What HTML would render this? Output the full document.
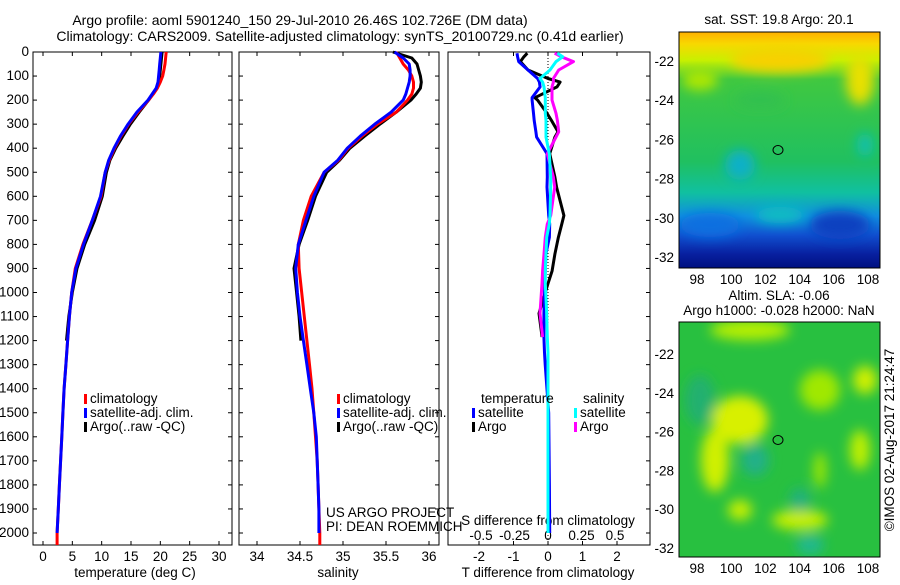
<!DOCTYPE html>
<html><head><meta charset="utf-8"><style>
body{margin:0;background:#fff;width:900px;height:580px;overflow:hidden;font-family:"Liberation Sans",sans-serif}
svg text{font-family:"Liberation Sans",sans-serif;font-size:13.5px;fill:#000}
svg text.ttl{font-size:14px}
</style></head><body>
<svg id="c" width="900" height="580">
<defs>
<filter id="bl" x="-20%" y="-20%" width="140%" height="140%"><feGaussianBlur stdDeviation="6"/></filter>
<clipPath id="m1c"><rect x="679" y="32" width="201" height="236"/></clipPath>
<clipPath id="m2c"><rect x="679" y="322" width="201" height="235"/></clipPath>
<linearGradient id="sst" x1="0" y1="0" x2="0" y2="1">
<stop offset="0" stop-color="#ffb000"/><stop offset="0.05" stop-color="#f8d800"/><stop offset="0.12" stop-color="#c8f000"/>
<stop offset="0.2" stop-color="#40c840"/><stop offset="0.55" stop-color="#20c060"/><stop offset="0.68" stop-color="#10c0a0"/>
<stop offset="0.78" stop-color="#1090e0"/><stop offset="0.86" stop-color="#1050d0"/><stop offset="0.94" stop-color="#0820a0"/><stop offset="1" stop-color="#001080"/>
</linearGradient>
</defs>
<text class="ttl" x="300" y="25" text-anchor="middle">Argo profile: aoml 5901240_150 29-Jul-2010 26.46S 102.726E (DM data)</text>
<text class="ttl" x="340" y="41" text-anchor="middle">Climatology: CARS2009. Satellite-adjusted climatology: synTS_20100729.nc (0.41d earlier)</text>
<g id="plots"></g>
<g clip-path="url(#m1c)">
<rect x="679" y="32" width="201" height="236" fill="url(#sst)"/>
<g filter="url(#bl)">
<ellipse cx="780" cy="60" rx="50" ry="12" fill="#f8d000"/>
<ellipse cx="860" cy="80" rx="14" ry="25" fill="#e8e000"/>
<ellipse cx="700" cy="80" rx="18" ry="10" fill="#b0e800"/>
<ellipse cx="760" cy="100" rx="25" ry="8" fill="#30c050"/>
<ellipse cx="740" cy="165" rx="15" ry="15" fill="#10b0c8"/>
<ellipse cx="865" cy="145" rx="8" ry="12" fill="#10c0b0"/>
<ellipse cx="710" cy="225" rx="30" ry="12" fill="#1070e0"/>
<ellipse cx="840" cy="225" rx="30" ry="14" fill="#1040c0"/>
<ellipse cx="780" cy="215" rx="25" ry="8" fill="#10c0c0"/>
</g>
<ellipse cx="778" cy="150" rx="5" ry="4.5" fill="none" stroke="#000" stroke-width="1"/>
</g>
<rect x="679" y="32" width="201" height="236" fill="none" stroke="#000"/>
<g clip-path="url(#m2c)">
<rect x="679" y="322" width="201" height="235" fill="#28c040"/>
<g filter="url(#bl)">
<ellipse cx="750" cy="330" rx="40" ry="10" fill="#b8f000"/>
<ellipse cx="740" cy="420" rx="28" ry="24" fill="#d8f000"/>
<ellipse cx="715" cy="460" rx="14" ry="32" fill="#d0f000"/>
<ellipse cx="820" cy="390" rx="20" ry="20" fill="#a0e800"/>
<ellipse cx="865" cy="380" rx="12" ry="14" fill="#d0f000"/>
<ellipse cx="860" cy="450" rx="10" ry="20" fill="#c0f000"/>
<ellipse cx="800" cy="520" rx="28" ry="10" fill="#c8f000"/>
<ellipse cx="740" cy="510" rx="12" ry="10" fill="#c8f000"/>
<ellipse cx="820" cy="470" rx="6" ry="18" fill="#a0e800"/>
<ellipse cx="755" cy="460" rx="14" ry="16" fill="#20b088"/>
<ellipse cx="800" cy="500" rx="10" ry="12" fill="#20b080"/>
<ellipse cx="810" cy="545" rx="14" ry="10" fill="#20b890"/>
<ellipse cx="700" cy="400" rx="15" ry="25" fill="#20b070"/>
</g>
<ellipse cx="778" cy="440" rx="5" ry="4.5" fill="none" stroke="#000" stroke-width="1"/>
</g>
<rect x="679" y="322" width="201" height="235" fill="none" stroke="#000"/>
<text x="779" y="24" text-anchor="middle">sat. SST: 19.8 Argo: 20.1</text>
<text x="779" y="300" text-anchor="middle">Altim. SLA: -0.06</text>
<text x="779" y="315" text-anchor="middle">Argo h1000: -0.028 h2000: NaN</text>
<text transform="translate(894,440) rotate(-90)" text-anchor="middle">©IMOS 02-Aug-2017 21:24:47</text>
<text x="326" y="517">US ARGO PROJECT</text>
<text x="326" y="531">PI: DEAN ROEMMICH</text>
</svg>
<script>
// pressure levels (dbar)
const pres = [0,25,50,75,100,125,150,175,200,250,300,350,400,450,500,600,700,800,900,1000,1100,1200,1300,1400,1500,1600,1700,1800,1900,2000,2050];
const tClim = [21.0,20.9,20.8,20.6,20.4,20.0,19.5,18.8,18.0,16.2,14.6,13.3,12.2,11.3,10.6,9.9,8.4,6.8,5.5,4.9,4.5,4.2,3.9,3.6,3.4,3.2,3.0,2.8,2.6,2.4,2.4];
const tSat  = [20.1,20.0,19.9,19.8,19.7,19.6,19.3,18.6,17.9,16.0,14.5,13.2,12.1,11.2,10.6,9.8,8.4,6.9,5.6,4.9,4.5,4.2,3.9,3.6,3.4,3.2,3.0,2.8,2.6,2.4,null];
const tArgo = [20.3,20.2,20.1,20.0,19.9,19.7,19.4,18.7,18.0,16.4,14.9,13.6,12.4,11.4,10.8,10.1,8.8,7.1,5.8,5.0,4.4,4.0,null,null,null,null,null,null,null,null,null];
const sClim = [35.62,35.66,35.70,35.76,35.80,35.82,35.82,35.80,35.75,35.62,35.40,35.22,35.06,34.95,34.78,34.63,34.54,34.48,34.49,34.52,34.55,34.58,34.61,34.64,34.66,34.68,34.70,34.71,34.72,34.73,34.73];
const sSat  = [35.60,35.70,35.77,35.78,35.78,35.77,35.75,35.73,35.70,35.56,35.37,35.20,35.05,34.94,34.78,34.66,34.57,34.48,34.45,34.47,34.50,34.54,34.58,34.62,34.66,34.69,34.70,34.71,34.72,34.72,null];
const sArgo = [35.58,35.80,35.86,35.88,35.90,35.91,35.90,35.85,35.79,35.62,35.43,35.25,35.08,34.96,34.81,34.68,34.59,34.49,34.43,34.46,34.49,34.51,null,null,null,null,null,null,null,null,null];
// difference profiles
const dPres = [5,20,40,75,110,125,145,190,200,255,285,332,354,423,520,562,680,715,770,840,910,963,1087,1185,1250,1300,1500,1800,2000];
const dTSat = [-0.9,-0.88,-0.85,-0.58,-0.3,-0.25,-0.23,-0.46,-0.46,-0.42,-0.4,-0.35,-0.33,-0.03,-0.02,-0.03,0.02,0.05,0.04,-0.06,-0.08,-0.09,-0.12,-0.12,-0.1,-0.08,0.02,0.04,0.05];
const dTArgo = [-0.6,-0.7,-0.8,-0.58,0,0.35,0.26,-0.38,-0.3,-0.03,0.1,0.29,0.2,0.05,0.2,0.25,0.46,0.4,0.3,0.2,0.12,0,-0.26,-0.17,null,null,null,null,null];
const dSSat = [0.07,0.11,0.06,0.015,-0.06,-0.04,-0.03,-0.02,-0.02,-0.02,-0.015,-0.015,-0.015,0.01,0.02,0.02,0.015,0.01,-0.01,-0.015,-0.02,-0.02,-0.01,-0.005,0,0,0,0,0];
const dSArgo = [0.05,0.1,0.19,0.08,0.04,0.04,0.03,0.03,0.03,0.06,0.07,0.08,0.06,-0.005,0.04,0.05,0.02,-0.005,-0.02,-0.03,-0.04,-0.045,-0.06,-0.04,null,null,null,null,null];
const yTicks = [0,100,200,300,400,500,600,700,800,900,1000,1100,1200,1300,1400,1500,1600,1700,1800,1900,2000];
const tTicks = [0,5,10,15,20,25,30];
const sTicks = [34,34.5,35,35.5,36];
const dtTicks = [-2,-1,0,1,2];
const dsTicks = [-0.5,-0.25,0,0.25,0.5];

const NS='http://www.w3.org/2000/svg';
const root=document.getElementById('plots');
function el(tag,attrs,parent){const e=document.createElementNS(NS,tag);for(const k in attrs)e.setAttribute(k,attrs[k]);(parent||root).appendChild(e);return e;}
const TOP=52, BOT=545;
const yP=p=>TOP+p*0.2405;
function lin(d0,d1,r0,r1){return v=>r0+(v-d0)*(r1-r0)/(d1-d0);}
const xT=lin(0,30,43,219), xS=lin(34,36,257,429), xDT=lin(0,2,548,617), xDS=lin(0,0.5,548,615);

const panels=[{l:33,r:232,name:'temperature-panel'},{l:239,r:439,name:'salinity-panel'},{l:448,r:650,name:'difference-panel'}];
panels.forEach((p,i)=>{
  const g=el('g',{});
  
  
  el('rect',{x:p.l,y:TOP,width:p.r-p.l,height:BOT-TOP,fill:'none',stroke:'#000'},g);
  yTicks.forEach(v=>{
    const y=yP(v);
    if(i<2){el('line',{x1:p.l,x2:p.l+4,y1:y,y2:y,stroke:'#000'},g);}
    el('line',{x1:p.r-4,x2:p.r,y1:y,y2:y,stroke:'#000'},g);
    if(i==0){const t=el('text',{x:p.l-4,y:y+4,'text-anchor':'end'},g);t.textContent=v;
      
      }
  });
});
function xAxis(ticks,fx,y0,labelY){
  ticks.forEach(v=>{const x=fx(v);
    el('line',{x1:x,x2:x,y1:BOT,y2:BOT-4,stroke:'#000'});
    el('line',{x1:x,x2:x,y1:TOP,y2:TOP+4,stroke:'#000'});
    const t=el('text',{x:x,y:labelY,'text-anchor':'middle'});t.textContent=v;
    
    });
}
xAxis(tTicks,xT,BOT,561);
xAxis(sTicks,xS,BOT,561);
xAxis(dtTicks,xDT,BOT,561);
dsTicks.forEach(v=>{const t=el('text',{x:xDS(v),y:540,'text-anchor':'middle'});t.textContent=v;
  
  });
[['temperature (deg C)',135,'x-axis-title-temperature'],['salinity',338,'x-axis-title-salinity'],['T difference from climatology',548,'x-axis-title-t-diff']].forEach(a=>{
  const t=el('text',{x:a[1],y:577,'text-anchor':'middle'});t.textContent=a[0];
  
  });
{const t=el('text',{x:548,y:525,'text-anchor':'middle'});t.textContent='S difference from climatology';
 
 }
el('line',{x1:548,x2:548,y1:TOP,y2:BOT,stroke:'#000','stroke-dasharray':'1,2'});

function line(vals,ps,fx,color,name){
  let d='',pen=false;
  vals.forEach((v,i)=>{if(v===null){pen=false;return;}d+=(pen?'L':'M')+fx(v).toFixed(1)+','+yP(ps[i]).toFixed(1);pen=true;});
  const e=el('path',{d:d,fill:'none',stroke:color,'stroke-width':3,'stroke-linejoin':'round'});
  
  
}
line(tArgo,pres,xT,'#000','temp-argo-line');
line(tClim,pres,xT,'#f00','temp-climatology-line');
line(tSat,pres,xT,'#00f','temp-satellite-line');
line(sArgo,pres,xS,'#000','sal-argo-line');
line(sClim,pres,xS,'#f00','sal-climatology-line');
line(sSat,pres,xS,'#00f','sal-satellite-line');
line(dTArgo,dPres,xDT,'#000','tdiff-argo-line');
line(dTSat,dPres,xDT,'#00f','tdiff-satellite-line');
line(dSArgo,dPres,xDS,'#f0f','sdiff-argo-line');
line(dSSat,dPres,xDS,'#0ff','sdiff-satellite-line');

function legend(x,y,color,label){
  el('rect',{x:x,y:y-9,width:3,height:10,fill:color});
  const t=el('text',{x:x+6,y:y});t.textContent=label;
  
  
}
legend(84,403,'#f00','climatology');legend(84,417,'#00f','satellite-adj. clim.');legend(84,431,'#000','Argo(..raw -QC)');
legend(337,403,'#f00','climatology');legend(337,417,'#00f','satellite-adj. clim.');legend(337,431,'#000','Argo(..raw -QC)');
{const t=el('text',{x:481,y:403});t.textContent='temperature';}
{const t=el('text',{x:583,y:403});t.textContent='salinity';}
legend(472,417,'#00f','satellite');legend(472,431,'#000','Argo');
legend(574,417,'#0ff','satellite');legend(574,431,'#f0f','Argo');

const lonTicks=[98,100,102,104,106,108];
const latTicks=[-22,-24,-26,-28,-30,-32];
const xLon=lin(98,108,697,868);
[[32,268,lin(-22,-32,62,258)],[322,557,lin(-22,-32,355,549)]].forEach(m=>{
  lonTicks.forEach(v=>{const x=xLon(v);
    el('line',{x1:x,x2:x,y1:m[1],y2:m[1]-3,stroke:'#000'});
    const t=el('text',{x:x,y:m[1]+16,'text-anchor':'middle'});t.textContent=v;
    
    });
  latTicks.forEach(v=>{const y=m[2](v);
    el('line',{x1:679,x2:682,y1:y,y2:y,stroke:'#000'});
    el('line',{x1:877,x2:880,y1:y,y2:y,stroke:'#000'});
    const t=el('text',{x:674,y:y+4,'text-anchor':'end'});t.textContent=v;
    
    });
});
</script>
</body></html>
